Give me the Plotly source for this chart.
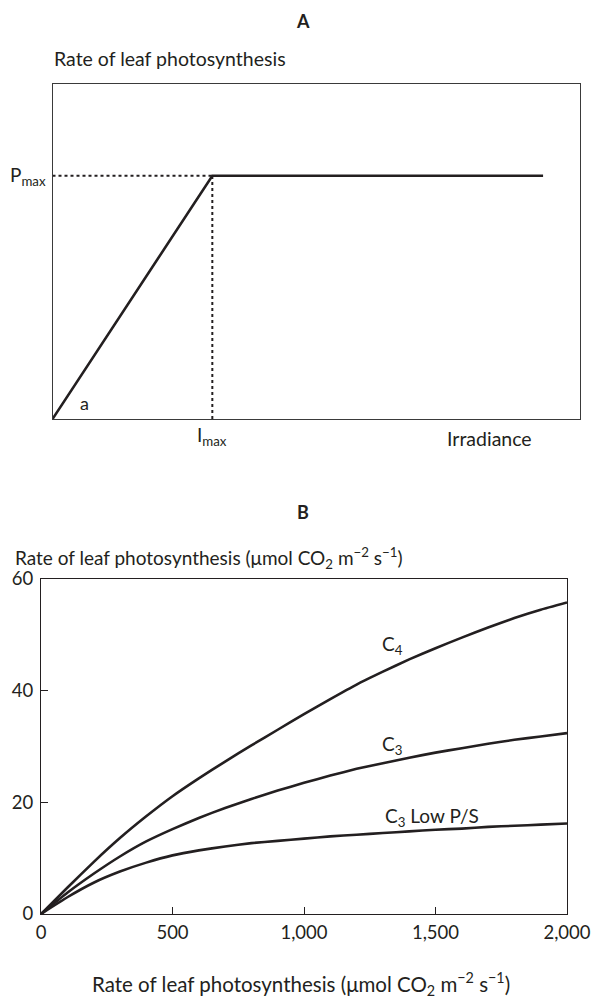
import plotly.graph_objects as go

# ---- Panel A data (arbitrary units) ----
irr_a = [0, 30.3, 93.0]
rate_a = [0, 72.6, 72.6]
imax = 30.3
pmax = 72.6

# ---- Panel B data ----
x_b = [0, 100, 200, 300, 400, 500, 600, 700, 800, 900, 1000, 1100, 1200, 1300, 1400,
       1500, 1600, 1700, 1800, 1900, 2000]
y_c4 = [0, 4.7, 9.3, 13.6, 17.5, 21.1, 24.3, 27.3, 30.2, 33.0, 35.8, 38.5, 41.1, 43.4,
        45.6, 47.6, 49.5, 51.3, 53.0, 54.5, 55.8]
y_c3 = [0, 3.8, 7.2, 10.3, 13.0, 15.2, 17.2, 19.0, 20.6, 22.1, 23.5, 24.8, 26.0, 27.0,
        28.0, 28.9, 29.7, 30.5, 31.2, 31.8, 32.4]
y_low = [0, 3.0, 5.6, 7.6, 9.2, 10.5, 11.4, 12.1, 12.7, 13.1, 13.5, 13.9, 14.2, 14.5,
         14.8, 15.1, 15.3, 15.6, 15.8, 16.0, 16.2]
xticks_b = [0, 500, 1000, 1500, 2000]
xticklabels_b = ["0", "500", "1,000", "1,500", "2,000"]
yticks_b = [0, 20, 40, 60]
yticklabels_b = ["0", "20", "40", "60"]

W, H = 603, 999
FONT = "Lato"
INK = "#231f20"
FS = 18.5


def px(x, y):
    return x / W, 1 - y / H


fig = go.Figure()

# Panel A
fig.add_trace(go.Scatter(x=irr_a, y=rate_a, mode="lines", xaxis="x", yaxis="y",
                         line=dict(color=INK, width=2.6), showlegend=False))
fig.add_trace(go.Scatter(x=[0, imax], y=[pmax, pmax], mode="lines", xaxis="x", yaxis="y",
                         line=dict(color=INK, width=2, dash="dot"), showlegend=False))
fig.add_trace(go.Scatter(x=[imax, imax], y=[0, pmax], mode="lines", xaxis="x", yaxis="y",
                         line=dict(color=INK, width=2, dash="dot"), showlegend=False))

# Panel B
for ys in [y_c4, y_c3, y_low]:
    fig.add_trace(go.Scatter(x=x_b, y=ys, mode="lines", xaxis="x2", yaxis="y2",
                             line=dict(color=INK, width=2.6, shape="spline", smoothing=0.4),
                             showlegend=False))

axA = dict(showgrid=False, zeroline=False, showticklabels=False, ticks="",
           showline=True, mirror=True, linecolor="#3a3a3a", linewidth=1.3, automargin=False)
fig.update_layout(
    width=W, height=H,
    margin=dict(l=0, r=0, t=0, b=0, autoexpand=False),
    paper_bgcolor="white", plot_bgcolor="white",
    font=dict(family=FONT, color=INK, size=FS),
    xaxis=dict(domain=[52.5 / W, 580 / W], range=[0, 100], anchor="y", **axA),
    yaxis=dict(domain=[1 - 419 / H, 1 - 84 / H], range=[0, 100], anchor="x", **axA),
    xaxis2=dict(domain=[41 / W, 567 / W], range=[0, 2000], anchor="y2", automargin=False,
                tickmode="array", tickvals=xticks_b, ticktext=xticklabels_b,
                ticks="inside", ticklen=7, tickwidth=1.3, tickcolor=INK,
                ticklabelstandoff=2,
                showgrid=False, zeroline=False, showline=True, mirror=True,
                linecolor=INK, linewidth=1.3,
                tickfont=dict(size=FS, family=FONT, color=INK)),
    yaxis2=dict(domain=[1 - 914 / H, 1 - 579 / H], range=[0, 60], anchor="x2", automargin=False,
                tickmode="array", tickvals=yticks_b, ticktext=yticklabels_b,
                ticks="inside", ticklen=7, tickwidth=1.3, tickcolor=INK,
                ticklabelstandoff=3,
                showgrid=False, zeroline=False, showline=True, mirror=True,
                linecolor=INK, linewidth=1.3,
                tickfont=dict(size=FS, family=FONT, color=INK)),
)


def label(text, x, y, size=FS, xanchor="center", yanchor="middle", bold=False):
    ax, ay = px(x, y)
    if bold:
        text = f"<b>{text}</b>"
    fig.add_annotation(text=text, x=ax, y=ay, xref="paper", yref="paper",
                       showarrow=False, xanchor=xanchor, yanchor=yanchor,
                       font=dict(size=size, family=FONT, color=INK))


label("A", 303, 21, size=18, bold=True)
label("Rate of leaf photosynthesis", 52, 58, size=19.5, xanchor="left")
label("P<sub>max</sub>", 48, 176, size=19, xanchor="right")
label("a", 84, 403, size=18)
label("I<sub>max</sub>", 212, 436, size=19)
label("Irradiance", 489, 438, size=19.5)

label("B", 303, 512, size=18, bold=True)
label("Rate of leaf photosynthesis (μmol CO<sub>2</sub> m<sup>−2</sup> s<sup>−1</sup>)",
      13, 558, size=19, xanchor="left")
label("C<sub>4</sub>", 392, 645, size=19)
label("C<sub>3</sub>", 392, 745, size=19)
label("C<sub>3</sub> Low P/S", 432, 817, size=19)
label("Rate of leaf photosynthesis (μmol CO<sub>2</sub> m<sup>−2</sup> s<sup>−1</sup>)",
      301, 984, size=20.5)

fig.write_html(
    "out.html",
    config={"displayModeBar": False},
    post_script="document.body.style.margin='0px';"
                "document.body.style.overflow='hidden';"
                "document.documentElement.style.overflow='hidden';",
)
